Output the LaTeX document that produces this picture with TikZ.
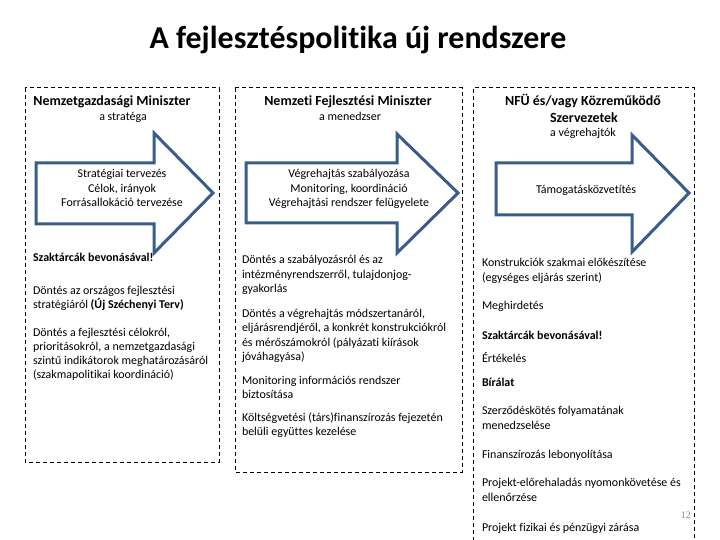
\documentclass[tikz,border=0pt]{standalone}
\usepackage{fontspec}
\setmainfont{Carlito}[Ligatures={NoCommon}]
\definecolor{arrowblue}{HTML}{385D8A}
\definecolor{pagenum}{HTML}{8C8C73}
\newcommand{\bodypar}[2][14.6]{\parbox[t]{260bp}{\fontsize{12}{#1}\selectfont\raggedright #2}}
\tikzset{
  panel/.style={draw=black, line width=1bp, dash pattern=on 4bp off 3bp},
  bigarrow/.style={draw=arrowblue, fill=white, line width=3bp, line join=miter},
  txt/.style={inner sep=0pt, outer sep=0pt, anchor=base west, font=\fontsize{12}{14.6}\selectfont},
  ctxt/.style={inner sep=0pt, outer sep=0pt, anchor=base, font=\fontsize{12}{14.6}\selectfont},
  head/.style={inner sep=0pt, outer sep=0pt, anchor=base, font=\fontsize{14}{16.5}\selectfont\bfseries},
}
\begin{document}
\begin{tikzpicture}[x=1bp, y=-1bp]
\useasboundingbox (0,0) rectangle (720,540);
% title
\node[inner sep=0pt, anchor=base, font=\fontsize{32}{38}\selectfont\bfseries] (title) at (358,49) {A fejlesztéspolitika új rendszere};
% panels
\draw[panel] (25,88) rectangle (219,462);
\draw[panel] (235,88) rectangle (462,472);
\draw[panel] (473,541) -- (473,88) -- (694,88) -- (694,541);
% arrows
\draw[bigarrow] (36,163) -- (154,163) -- (154,133) -- (213,193) -- (154,253) -- (154,224) -- (36,224) -- cycle;
\draw[bigarrow] (246,163) -- (397,163) -- (397,134) -- (458,193) -- (397,253) -- (397,223) -- (246,223) -- cycle;
\draw[bigarrow] (496,163) -- (632,163) -- (632,135) -- (689,193) -- (632,252) -- (632,215) -- (496,215) -- cycle;
% headers
\node[head] (h1) at (112,105.5) {Nemzetgazdasági Miniszter};
\node[ctxt] (s1) at (123,120.5) {a stratéga};
\node[head] (h2) at (348,105.5) {Nemzeti Fejlesztési Miniszter};
\node[ctxt] (s2) at (350,120.5) {a menedzser};
\node[head] (h3a) at (583,106) {NFÜ és/vagy Közreműködő};
\node[head] (h3b) at (584,122.5) {Szervezetek};
\node[ctxt] (s3) at (583,137) {a végrehajtók};
% arrow texts
\node[ctxt] (a1a) at (122,178) {Stratégiai tervezés};
\node[ctxt] (a1b) at (122,192.5) {Célok, irányok};
\node[ctxt] (a1c) at (122,207) {Forrásallokáció tervezése};
\node[ctxt] (a2a) at (349,178) {Végrehajtás szabályozása};
\node[ctxt] (a2b) at (349,192.5) {Monitoring, koordináció};
\node[ctxt] (a2c) at (349,207) {Végrehajtási rendszer felügyelete};
\node[ctxt] (a3) at (586,194) {Támogatásközvetítés};
% panel 1 body
\node[txt] (p1a) at (33,262) {\bodypar{\textbf{Szaktárcák bevonásával!}}};
\node[txt] (p1b) at (33,294) {\bodypar[14.3]{Döntés az országos fejlesztési\\stratégiáról \textbf{(Új Széchenyi Terv)}}};
\node[txt] (p1c) at (33,336) {\bodypar[14.3]{Döntés a fejlesztési célokról,\\prioritásokról, a nemzetgazdasági\\szintű indikátorok meghatározásáról\\(szakmapolitikai koordináció)}};
% panel 2 body
\node[txt] (p2a) at (242,263.5) {\bodypar{Döntés a szabályozásról és az\\intézményrendszerről, tulajdonjog-\\gyakorlás}};
\node[txt] (p2b) at (242,317) {\bodypar{Döntés a végrehajtás módszertanáról,\\eljárásrendjéről, a konkrét konstrukciókról\\és mérőszámokról (pályázati kiírások\\jóváhagyása)}};
\node[txt] (p2c) at (242,384) {\bodypar{Monitoring információs rendszer\\biztosítása}};
\node[txt] (p2d) at (242,421) {\bodypar{Költségvetési (társ)finanszírozás fejezetén\\belüli együttes kezelése}};
% panel 3 body
\node[txt] (p3a) at (482,266.8) {\bodypar[14.5]{Konstrukciók szakmai előkészítése\\(egységes eljárás szerint)}};
\node[txt] (p3b) at (482,309.5) {Meghirdetés};
\node[txt] (p3c) at (482,339.5) {\textbf{Szaktárcák bevonásával!}};
\node[txt] (p3d) at (482,362.5) {Értékelés};
\node[txt] (p3e) at (482,386.8) {\textbf{Bírálat}};
\node[txt] (p3f) at (482,414.2) {\bodypar[15]{Szerződéskötés folyamatának\\menedzselése}};
\node[txt] (p3g) at (482,458.5) {Finanszírozás lebonyolítása};
\node[txt] (p3h) at (482,486.8) {\bodypar[15]{Projekt-előrehaladás nyomonkövetése és\\ellenőrzése}};
\node[txt] (p3i) at (482,531.8) {Projekt fizikai és pénzügyi zárása};
% page number
\node[inner sep=0pt, anchor=base east, text=pagenum, font=\fontsize{10}{12}\selectfont\fontspec{Liberation Serif}] (num) at (691,518) {12};
\end{tikzpicture}
\end{document}
